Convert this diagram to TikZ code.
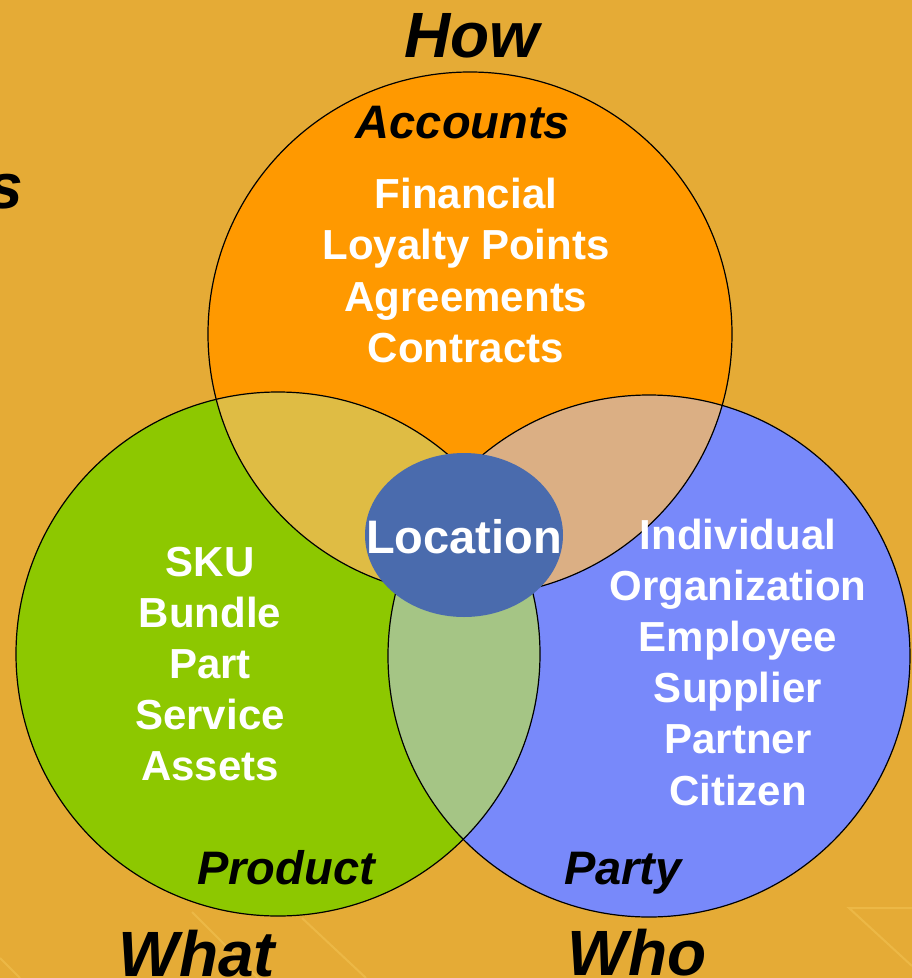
\documentclass[tikz,border=0pt]{standalone}
\usepackage{fontspec}
\setmainfont{Liberation Sans}
\definecolor{bgcol}{HTML}{E5AB36}
\definecolor{streakcol}{HTML}{F0BE4E}
\definecolor{howcol}{HTML}{FF9900}
\definecolor{whatcol}{HTML}{8DC800}
\definecolor{whocol}{HTML}{7889FA}
\definecolor{howwhat}{HTML}{DFBC44}
\definecolor{howwho}{HTML}{DBAF84}
\definecolor{whatwho}{HTML}{A5C585}
\definecolor{loccol}{HTML}{4A6BAD}
\begin{document}
\begin{tikzpicture}[x=1pt,y=-1pt,
  ring/.style={draw=black,line width=1.2pt},
  streak/.style={streakcol,line width=2pt,opacity=0.7},
  item/.style={text=white,font=\fontsize{42}{50}\selectfont\bfseries,anchor=base,inner sep=0pt},
  tag/.style={text=black,font=\fontsize{47}{56}\selectfont\bfseries\itshape,anchor=base,inner sep=0pt},
  head/.style={text=black,font=\fontsize{64}{76}\selectfont\bfseries\itshape,anchor=base,inner sep=0pt}]
  \fill[bgcol] (0,0) rectangle (912,978);
  \useasboundingbox (0,0) rectangle (912,978);
  % faint streaks in the background
  \draw[streak] (192,912) -- (258,978);
  \draw[streak] (302,918) -- (366,978);
  \draw[streak] (0,958) -- (20,978);
  \draw[streak] (912,908) -- (849,908) -- (912,966);
  % the three sets
  \coordinate (how) at (470,334);
  \coordinate (what) at (278,654);
  \coordinate (who) at (649,656);
  \fill[howcol] (how) circle (262);
  \fill[whatcol] (what) circle (262);
  \fill[whocol] (who) circle (261);
  \begin{scope}
    \clip (how) circle (262);
    \fill[howwhat] (what) circle (262);
    \fill[howwho] (who) circle (261);
  \end{scope}
  \begin{scope}
    \clip (what) circle (262);
    \fill[whatwho] (who) circle (261);
  \end{scope}
  \draw[ring] (how) circle (262);
  \draw[ring] (what) circle (262);
  \draw[ring] (who) circle (261);
  \fill[loccol] (464,535) circle [x radius=99, y radius=82];
  \node[item,font=\fontsize{47}{56}\selectfont\bfseries] (loc) at (464,553) {Location};
  % set titles
  \node[tag] (accounts) at (463,138) {Accounts};
  \node[tag] (product) at (286,884) {Product};
  \node[tag] (party) at (623,884) {Party};
  \node[head] (howlbl) at (472,57) {How};
  \node[head] (whatlbl) at (197,976) {What};
  \node[head] (wholbl) at (637,975) {Who};
  \node[head,anchor=base east] (cut) at (23,208) {s};
  % members
  \foreach \t [count=\i] in {Financial,Loyalty Points,Agreements,Contracts}
    \node[item] (acc-\i) at (466,208+51.5*\i-51.5) {\t};
  \foreach \t [count=\i] in {SKU,Bundle,Part,Service,Assets}
    \node[item] (prod-\i) at (210,576+51*\i-51) {\t};
  \foreach \t [count=\i] in {Individual,Organization,Employee,Supplier,Partner,Citizen}
    \node[item] (party-\i) at (738,549+51.2*\i-51.2) {\t};
\end{tikzpicture}
\end{document}
